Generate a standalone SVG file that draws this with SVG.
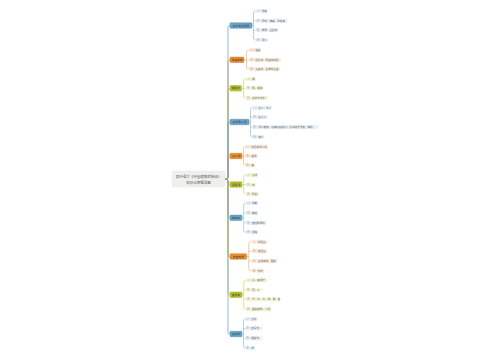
<svg xmlns="http://www.w3.org/2000/svg" width="500" height="360" viewBox="0 0 500 360">
<style>
text{font-family:"Noto Sans CJK SC","Noto Sans",sans-serif;}
.root{fill:#efefeb;stroke:#e2e2dc;stroke-width:0.3}
.rt{font-size:3.5px;fill:#555;text-anchor:middle}
.mt{font-size:2.8px;fill:#333;text-anchor:middle}
.ct{font-size:2.6px;fill:#666}
.nb{fill:#6aa6c8;stroke:#3f7fa6;stroke-width:0.4}
.no{fill:#ea8d2f;stroke:#c96f16;stroke-width:0.4}
.ng{fill:#b9c12f;stroke:#98a01a;stroke-width:0.4}
.cb{fill:#e6f1f8}
.co{fill:#fcecdc}
.cg{fill:#f2f5d6}
.lb{fill:none;stroke:#5f9fc4;stroke-width:0.7}
.lo{fill:none;stroke:#e98c2e;stroke-width:0.7}
.lg{fill:none;stroke:#b4bd2b;stroke-width:0.7}
.sb{fill:none;stroke:#5f9fc4;stroke-width:0.45}
.so{fill:none;stroke:#e98c2e;stroke-width:0.45}
.sg{fill:none;stroke:#b4bd2b;stroke-width:0.45}
</style>
<rect width="500" height="360" fill="#ffffff"/>
<g id="connectors">
<path class="lo" d="M225 179H226Q228 179 228 177V61.8Q228 59.8 230 59.8"/>
<path class="lg" d="M225 179H226Q228 179 228 177V90.3Q228 88.3 230 88.3"/>
<path class="lo" d="M225 179H226Q228 179 228 177V158Q228 156 230 156"/>
<path class="lb" d="M225 179H226Q228 179 228 177V124Q228 122 230 122"/>
<path class="lb" d="M225 179H226Q228 179 228 177V27.5Q228 25.5 230 25.5"/>
<path class="lg" d="M225 179H226Q228 179 228 181V182.5Q228 184.5 230 184.5"/>
<path class="lb" d="M225 179H226Q228 179 228 181V215.8Q228 217.8 230 217.8"/>
<path class="lo" d="M225 179H226Q228 179 228 181V254.5Q228 256.5 230 256.5"/>
<path class="lg" d="M225 179H226Q228 179 228 181V292.8Q228 294.8 230 294.8"/>
<path class="lb" d="M225 179H226Q228 179 228 181V332Q228 334 230 334"/>
<path class="sb" d="M252 25.5H253.5M255.5 11Q253.5 11 253.5 13V38Q253.5 40 255.5 40M253.5 20.7H255.5M253.5 30.3H255.5"/>
<path class="so" d="M244 59.8H246.5M249 50Q246.5 50 246.5 52V67Q246.5 69 249 69M246.5 60H249"/>
<path class="sg" d="M241.5 88.3H243.5M245.7 79Q243.5 79 243.5 81V96Q243.5 98 245.7 98M243.5 88.3H245.7"/>
<path class="sb" d="M249 122H250.5M252 107.7Q250.5 107.7 250.5 109.5V135Q250.5 136.7 252 136.7M250.5 117H252M250.5 127H252"/>
<path class="so" d="M242 156H243.5M245 146.7Q243.5 146.7 243.5 148.5V163.5Q243.5 165.3 245 165.3M243.5 156H245"/>
<path class="sg" d="M242 184.5H243.7M245.7 175Q243.7 175 243.7 177V192Q243.7 194 245.7 194M243.7 184.7H245.7"/>
<path class="sb" d="M242 217.8H243.7M245.7 203Q243.7 203 243.7 205V230.3Q243.7 232.3 245.7 232.3M243.7 213H245.7M243.7 222.7H245.7"/>
<path class="so" d="M246.7 256.5H248.7M251.5 241.7Q248.7 241.7 248.7 243.7V268.7Q248.7 270.7 251.5 270.7M248.7 251.3H251.5M248.7 261H251.5"/>
<path class="sg" d="M242 294.8H243.7M245.7 280.3Q243.7 280.3 243.7 282.3V307.3Q243.7 309.3 245.7 309.3M243.7 289.7H245.7M243.7 299.3H245.7"/>
<path class="sb" d="M242 334H243.5M245 319Q243.5 319 243.5 321V346Q243.5 348 245 348M243.5 328.5H245M243.5 338.3H245"/>
</g>
<g id="root">
<rect class="root" x="172" y="171" width="53" height="16" rx="1"/>
<text class="rt" x="198.5" y="177.6">高中语文《中国建筑的特征》</text>
<text class="rt" x="198.5" y="183.6">知识点思维导图</text>
</g>
<g id="n1">
<rect class="nb" x="230" y="22.75" width="22" height="5.5" rx="0.8"/>
<text class="mt" x="241" y="26.5">文学常识积累</text>
<rect class="cb" x="255.5" y="9" width="12.5" height="4" rx="1"/><text class="ct" x="256.5" y="11.95">①：作者</text>
<rect class="cb" x="255.5" y="18.7" width="31.5" height="4" rx="1"/><text class="ct" x="256.5" y="21.65">②：题材、体裁、风格等</text>
<rect class="cb" x="255.5" y="28.3" width="22.5" height="4" rx="1"/><text class="ct" x="256.5" y="31.25">③：背景、主旨句</text>
<rect class="cb" x="255.5" y="38" width="12.5" height="4" rx="1"/><text class="ct" x="256.5" y="40.95">④：意义</text>
</g>
<g id="n2">
<rect class="no" x="230" y="57.05" width="14" height="5.5" rx="0.8"/>
<text class="mt" x="237" y="60.8">字音字形</text>
<rect class="co" x="249" y="48" width="12" height="4" rx="1"/><text class="ct" x="250" y="50.95">①：读音</text>
<rect class="co" x="249" y="58" width="32" height="4" rx="1"/><text class="ct" x="250" y="60.95">②：形近字、同音字辨析</text>
<rect class="co" x="249" y="67" width="31" height="4" rx="1"/><text class="ct" x="250" y="69.95">③：多音字、生僻字注音</text>
</g>
<g id="n3">
<rect class="ng" x="230" y="85.55" width="11.5" height="5.5" rx="0.8"/>
<text class="mt" x="235.75" y="89.3">通假字</text>
<rect class="cg" x="245.7" y="77" width="10.5" height="4" rx="1"/><text class="ct" x="246.7" y="79.95">①：通</text>
<rect class="cg" x="245.7" y="86.3" width="17.5" height="4" rx="1"/><text class="ct" x="246.7" y="89.25">②：同、通假</text>
<rect class="cg" x="245.7" y="96" width="22.5" height="4" rx="1"/><text class="ct" x="246.7" y="98.95">③：古字与今字</text>
</g>
<g id="n4">
<rect class="nb" x="230" y="119.25" width="19" height="5.5" rx="0.8"/>
<text class="mt" x="239.5" y="123">古今异义词</text>
<rect class="cb" x="252" y="105.7" width="20" height="4" rx="1"/><text class="ct" x="253" y="108.65">①：古义、今义</text>
<rect class="cb" x="252" y="115" width="16" height="4" rx="1"/><text class="ct" x="253" y="117.95">②：缩小义</text>
<rect class="cb" x="252" y="125" width="66" height="4" rx="1"/><text class="ct" x="253" y="127.95">③：词义转移、感情色彩变化、名称说法改变、举例</text>
<rect class="cb" x="252" y="134.7" width="12.5" height="4" rx="1"/><text class="ct" x="253" y="137.65">④：偏义</text>
</g>
<g id="n5">
<rect class="no" x="230" y="153.25" width="12" height="5.5" rx="0.8"/>
<text class="mt" x="236" y="157">多义词</text>
<rect class="co" x="245" y="144.7" width="23" height="4" rx="1"/><text class="ct" x="246" y="147.65">①：常见实词义项</text>
<rect class="co" x="245" y="154" width="13" height="4" rx="1"/><text class="ct" x="246" y="156.95">②：虚词</text>
<rect class="co" x="245" y="163.3" width="10.5" height="4" rx="1"/><text class="ct" x="246" y="166.25">③：其</text>
</g>
<g id="n6">
<rect class="ng" x="230" y="181.75" width="12" height="5.5" rx="0.8"/>
<text class="mt" x="236" y="185.5">活用词</text>
<rect class="cg" x="245.7" y="173" width="12.5" height="4" rx="1"/><text class="ct" x="246.7" y="175.95">①：名词</text>
<rect class="cg" x="245.7" y="182.7" width="10.5" height="4" rx="1"/><text class="ct" x="246.7" y="185.65">②：动</text>
<rect class="cg" x="245.7" y="192" width="13.5" height="4" rx="1"/><text class="ct" x="246.7" y="194.95">③：形容</text>
</g>
<g id="n7">
<rect class="nb" x="230" y="215.05" width="12" height="5.5" rx="0.8"/>
<text class="mt" x="236" y="218.8">特殊句</text>
<rect class="cb" x="245.7" y="201" width="12.5" height="4" rx="1"/><text class="ct" x="246.7" y="203.95">①：判断</text>
<rect class="cb" x="245.7" y="211" width="12.5" height="4" rx="1"/><text class="ct" x="246.7" y="213.95">②：被动</text>
<rect class="cb" x="245.7" y="220.7" width="20.5" height="4" rx="1"/><text class="ct" x="246.7" y="223.65">③：宾语前置句</text>
<rect class="cb" x="245.7" y="230.3" width="12.5" height="4" rx="1"/><text class="ct" x="246.7" y="233.25">④：省略</text>
</g>
<g id="n8">
<rect class="no" x="230" y="253.75" width="16.7" height="5.5" rx="0.8"/>
<text class="mt" x="238.35" y="257.5">文言句式</text>
<rect class="co" x="251.5" y="239.7" width="16" height="4" rx="1"/><text class="ct" x="252.5" y="242.65">①：状语后</text>
<rect class="co" x="251.5" y="249.3" width="16" height="4" rx="1"/><text class="ct" x="252.5" y="252.25">②：定语后</text>
<rect class="co" x="251.5" y="259" width="26" height="4" rx="1"/><text class="ct" x="252.5" y="261.95">③：主谓倒装、固定</text>
<rect class="co" x="251.5" y="268.7" width="12.5" height="4" rx="1"/><text class="ct" x="252.5" y="271.65">④：句式</text>
</g>
<g id="n9">
<rect class="ng" x="230" y="292.05" width="12" height="5.5" rx="0.8"/>
<text class="mt" x="236" y="295.8">虚词表</text>
<rect class="cg" x="245.7" y="278.3" width="22" height="4" rx="1"/><text class="ct" x="246.7" y="281.25">①：之、其用法</text>
<rect class="cg" x="245.7" y="287.7" width="16.5" height="4" rx="1"/><text class="ct" x="246.7" y="290.65">②：而、以</text>
<rect class="cg" x="245.7" y="297.3" width="34.5" height="4" rx="1"/><text class="ct" x="246.7" y="300.25">③：于、为、乃、则、所、者</text>
<rect class="cg" x="245.7" y="307.3" width="26" height="4" rx="1"/><text class="ct" x="246.7" y="310.25">④：固定结构、习语</text>
</g>
<g id="n10">
<rect class="nb" x="230" y="331.25" width="12" height="5.5" rx="0.8"/>
<text class="mt" x="236" y="335">名句积</text>
<rect class="cb" x="245" y="317" width="12.5" height="4" rx="1"/><text class="ct" x="246" y="319.95">①：名句</text>
<rect class="cb" x="245" y="326.5" width="17" height="4" rx="1"/><text class="ct" x="246" y="329.45">②：默写句</text>
<rect class="cb" x="245" y="336.3" width="17" height="4" rx="1"/><text class="ct" x="246" y="339.25">③：理解句</text>
<rect class="cb" x="245" y="346" width="10.5" height="4" rx="1"/><text class="ct" x="246" y="348.95">④：背</text>
</g>
</svg>
